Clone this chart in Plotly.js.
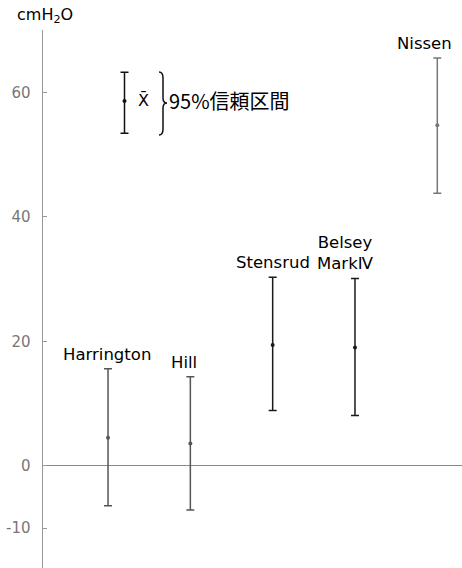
<!DOCTYPE html>
<html><head><meta charset="utf-8">
<script src="https://cdn.plot.ly/plotly-3.0.1.min.js"></script>
<style>html,body{margin:0;padding:0;background:#fff}</style>
</head><body>
<div id="chart" style="width:462px;height:568px"></div>
<script>
// data
const categories = ["Harrington", "Hill", "Stensrud", "Belsey<br>MarkⅣ", "Nissen"];
const means = [4.5, 3.6, 19.4, 19.0, 54.7];
const upper = [15.6, 14.3, 30.3, 30.1, 65.5];
const lower = [-6.4, -7.1, 8.9, 8.1, 43.8];
const tickValues = [-10, 0, 20, 40, 60];
const tickLabels = ["-10", "0", "20", "40", "60"];
// legend key sample
const legendMean = [58.6];
const legendUpper = [63.2];
const legendLower = [53.4];

const barColors = ["#555", "#555", "#1a1a1a", "#1a1a1a", "#777"];
const labelXShift = [-1, -6, 0, -9, -13];

const idx = categories.map((c, i) => i);
const traces = idx.map(i => ({
  type: "scatter", mode: "markers",
  x: [i], y: [means[i]],
  marker: {size: 4, color: barColors[i]},
  error_y: {type: "data", symmetric: false,
    array: [upper[i] - means[i]], arrayminus: [means[i] - lower[i]],
    color: barColors[i], thickness: 1.5, width: 4},
  hoverinfo: "skip", showlegend: false
}));
const legendX = 0.2;
traces.push({
  type: "scatter", mode: "markers",
  x: [legendX], y: legendMean,
  marker: {size: 4, color: "#111"},
  error_y: {type: "data", symmetric: false,
    array: [legendUpper[0] - legendMean[0]], arrayminus: [legendMean[0] - legendLower[0]],
    color: "#111", thickness: 1.5, width: 4},
  hoverinfo: "skip", showlegend: false
});

const labelFont = {family: "DejaVu Sans", size: 16.5, color: "#000"};
const annotations = idx.map(i => ({
  x: i, y: upper[i], xref: "x", yref: "y",
  text: categories[i], showarrow: false,
  yanchor: "bottom", yshift: 3, xshift: labelXShift[i],
  font: labelFont, align: "center"
}));
annotations.push({
  x: legendX, y: legendMean[0], xref: "x", yref: "y",
  text: "X̄", showarrow: false, xanchor: "left", xshift: 11,
  font: {family: "DejaVu Sans", size: 16, color: "#000"}
});
annotations.push({
  x: legendX, y: legendMean[0], xref: "x", yref: "y",
  text: "95%信頼区間", showarrow: false, xanchor: "left", xshift: 42,
  font: {family: "Noto Sans CJK JP", size: 20, color: "#000"}
});
annotations.push({
  x: 2 / 419, y: 1, xref: "paper", yref: "paper",
  text: "cmH<sub>2</sub>O", showarrow: false, xanchor: "center", yanchor: "bottom", yshift: 2,
  font: {family: "DejaVu Sans", size: 16, color: "#000"}
});

// brace next to legend key (pixel helper)
const W = 462, H = 568, L = 43, T = 30;
const px = x => (x - L) / (W - L);
const py = y => (H - y) / (H - T);
const bx = 159, bTop = 72, bBot = 135, bMid = 103;
const bracePath =
  `M ${px(bx)} ${py(bTop)} Q ${px(bx+4)} ${py(bTop)} ${px(bx+4)} ${py(bTop+6)} ` +
  `L ${px(bx+4)} ${py(bMid-5)} Q ${px(bx+4)} ${py(bMid)} ${px(bx+8)} ${py(bMid)} ` +
  `Q ${px(bx+4)} ${py(bMid)} ${px(bx+4)} ${py(bMid+5)} ` +
  `L ${px(bx+4)} ${py(bBot-6)} Q ${px(bx+4)} ${py(bBot)} ${px(bx)} ${py(bBot)}`;

const layout = {
  width: 462, height: 568,
  margin: {l: 43, r: 0, t: 30, b: 0},
  paper_bgcolor: "#fff", plot_bgcolor: "#fff",
  showlegend: false,
  xaxis: {range: [-0.79, 4.3], showgrid: false, zeroline: false,
    showticklabels: false, ticks: "", showline: false},
  yaxis: {range: [-16.4, 70], tickvals: tickValues, ticktext: tickLabels,
    showgrid: false, zeroline: true, zerolinecolor: "#888", zerolinewidth: 1,
    showline: true, linecolor: "#999", linewidth: 1.5,
    ticks: "inside", ticklen: 4, tickcolor: "#999", ticklabelstandoff: 8,
    tickfont: {family: "DejaVu Sans", size: 15, color: "#777"}},
  annotations: annotations,
  shapes: [{type: "path", xref: "paper", yref: "paper", path: bracePath,
    line: {color: "#111", width: 1.5}}]
};
Plotly.newPlot("chart", traces, layout, {displayModeBar: false, staticPlot: true});
</script>
</body></html>
